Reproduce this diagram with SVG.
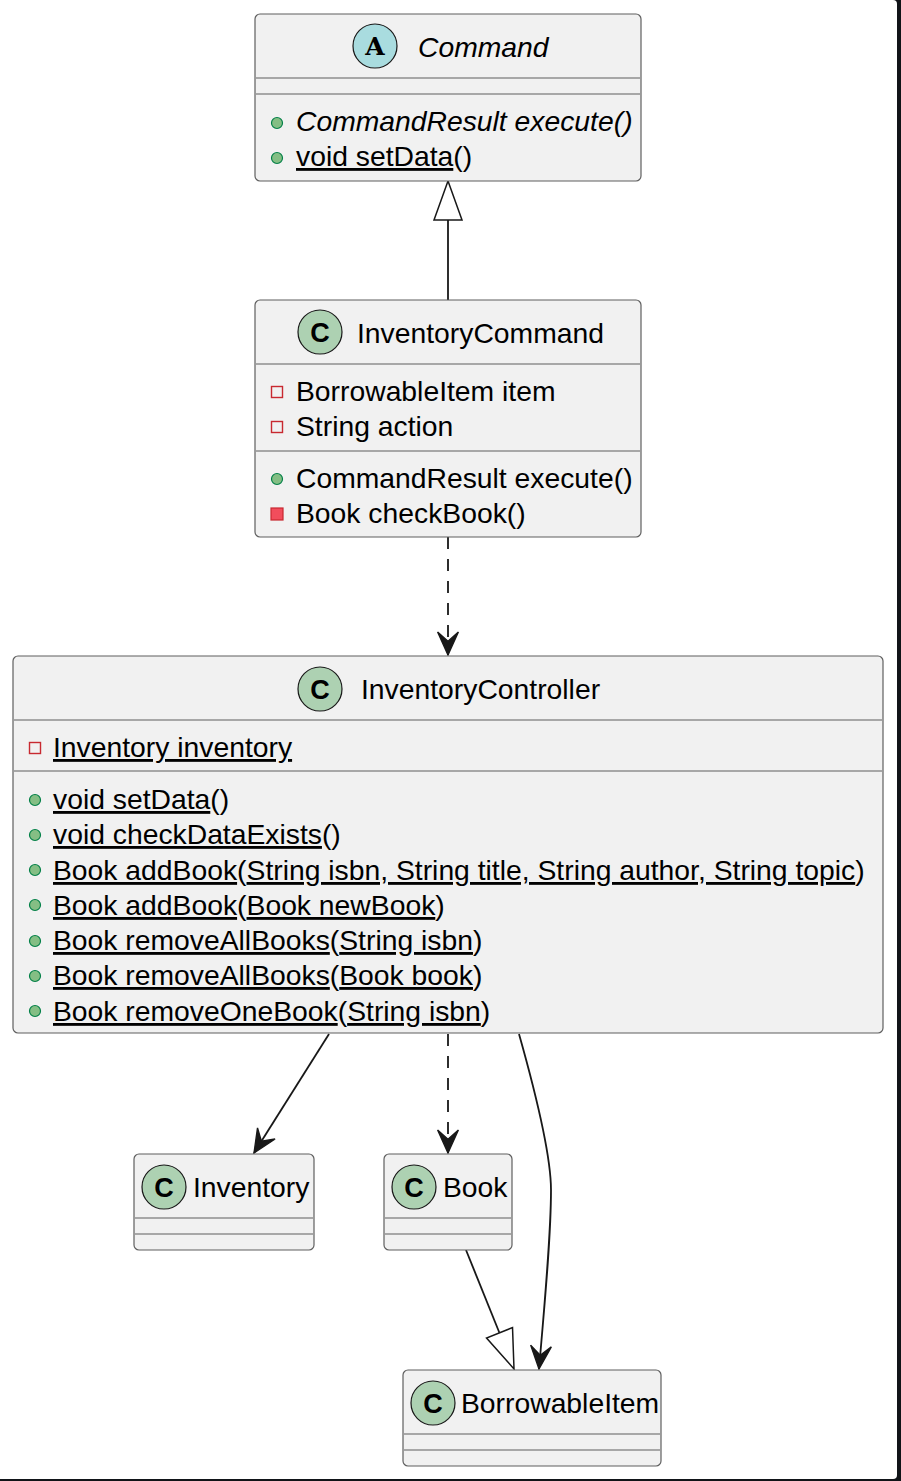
<svg xmlns="http://www.w3.org/2000/svg" width="901" height="1481" viewBox="0 0 901 1481">
<style>
  .box{fill:#F1F1F1;stroke:#5f5f5f;stroke-width:1.2}
  .sep{stroke:#5f5f5f;stroke-width:1.2}
  .t{font-family:"Liberation Sans",Arial,sans-serif;font-size:28.3px;fill:#000}
  .it{font-style:italic}
  .u{text-decoration:underline}
  .ci{fill:#ADD1B2;stroke:#181818;stroke-width:1.2}
  .ca{fill:#A9DCDF;stroke:#181818;stroke-width:1.2}
  .cl{font-family:"Liberation Sans",Arial,sans-serif;font-weight:bold;font-size:27px;fill:#000;text-anchor:middle}
  .al{font-family:"DejaVu Serif","Liberation Serif",serif;font-weight:bold;font-size:25px;fill:#000;text-anchor:middle}
  .pub{fill:#84BE84;stroke:#038048;stroke-width:1.2}
  .prf{fill:none;stroke:#C82930;stroke-width:1.4}
  .prm{fill:#F24D5C;stroke:#C82930;stroke-width:1.2}
  .ln{fill:none;stroke:#181818;stroke-width:1.8}
  .dash{stroke-dasharray:12,10}
</style>
<defs>
  <marker id="arr" markerUnits="userSpaceOnUse" orient="auto" refX="0" refY="0" markerWidth="30" markerHeight="30" viewBox="-24 -12 26 24" overflow="visible">
    <path d="M0,0 L-20,-9 L-12,0 L-20,9 Z" fill="#181818" stroke="#181818" stroke-width="1.2" stroke-linejoin="miter"/>
  </marker>
</defs>
<rect x="0" y="0" width="901" height="1481" fill="#111418"/>
<path d="M0,0 H893 Q897,0 897,4 V1475 Q897,1479 893,1479 H0 Z" fill="#FFFFFF"/>

<g id="connectors">
  <line class="ln" x1="448" y1="300" x2="448" y2="220"/>
  <path d="M0,0 L-39,-14 L-39,14 Z" transform="translate(448,181) rotate(-90)" fill="#FFFFFF" stroke="#181818" stroke-width="1.5"/>
  <line class="ln dash" x1="448" y1="537" x2="448" y2="655" marker-end="url(#arr)"/>
  <line class="ln" x1="329" y1="1034" x2="254" y2="1153" marker-end="url(#arr)"/>
  <line class="ln dash" x1="448" y1="1034" x2="448" y2="1153" marker-end="url(#arr)"/>
  <path class="ln" d="M519,1034 C532,1080 551,1150 551,1190 C551,1235 545,1300 539,1369" marker-end="url(#arr)"/>
  <line class="ln" x1="466" y1="1250" x2="499.5" y2="1333"/>
  <path d="M0,0 L-39,-14 L-39,14 Z" transform="translate(514,1369) rotate(68.2)" fill="#FFFFFF" stroke="#181818" stroke-width="1.5"/>
</g>

<g id="Command">
  <rect class="box" x="255" y="14" width="386" height="167" rx="5"/>
  <circle class="ca" cx="375" cy="46" r="22"/>
  <text class="al" x="375" y="55">A</text>
  <text class="t it" x="418" y="57">Command</text>
  <line class="sep" x1="256" y1="78" x2="640" y2="78"/>
  <line class="sep" x1="256" y1="94" x2="640" y2="94"/>
  <circle class="pub" cx="277" cy="123" r="5.5"/>
  <text class="t it" x="296" y="131">CommandResult execute()</text>
  <circle class="pub" cx="277" cy="158" r="5.5"/>
  <text class="t" x="296" y="166"><tspan class="u">void setData</tspan>()</text>
</g>

<g id="InventoryCommand">
  <rect class="box" x="255" y="300" width="386" height="237" rx="5"/>
  <circle class="ci" cx="320" cy="332" r="22"/>
  <text class="cl" x="320" y="342">C</text>
  <text class="t" x="357" y="343">InventoryCommand</text>
  <line class="sep" x1="256" y1="364" x2="640" y2="364"/>
  <rect class="prf" x="271.5" y="386.5" width="11" height="11"/>
  <text class="t" x="296" y="401">BorrowableItem item</text>
  <rect class="prf" x="271.5" y="421.5" width="11" height="11"/>
  <text class="t" x="296" y="436">String action</text>
  <line class="sep" x1="256" y1="451" x2="640" y2="451"/>
  <circle class="pub" cx="277" cy="479" r="5.5"/>
  <text class="t" x="296" y="488">CommandResult execute()</text>
  <rect class="prm" x="271" y="508" width="12" height="12"/>
  <text class="t" x="296" y="523">Book checkBook()</text>
</g>

<g id="InventoryController">
  <rect class="box" x="13" y="656" width="870" height="377" rx="5"/>
  <circle class="ci" cx="320" cy="689" r="22"/>
  <text class="cl" x="320" y="699">C</text>
  <text class="t" x="361" y="699">InventoryController</text>
  <line class="sep" x1="14" y1="720" x2="882" y2="720"/>
  <rect class="prf" x="29.5" y="742.5" width="11" height="11"/>
  <text class="t" x="53" y="757"><tspan class="u">Inventory inventory</tspan></text>
  <line class="sep" x1="14" y1="771" x2="882" y2="771"/>
  <circle class="pub" cx="35" cy="800" r="5.5"/>
  <text class="t" x="53" y="809"><tspan class="u">void setData</tspan>()</text>
  <circle class="pub" cx="35" cy="835" r="5.5"/>
  <text class="t" x="53" y="844"><tspan class="u">void checkDataExists</tspan>()</text>
  <circle class="pub" cx="35" cy="870" r="5.5"/>
  <text class="t" x="53" y="880"><tspan class="u">Book addBook</tspan>(<tspan class="u">String isbn, String title, String author, String topic</tspan>)</text>
  <circle class="pub" cx="35" cy="905" r="5.5"/>
  <text class="t" x="53" y="915"><tspan class="u">Book addBook</tspan>(<tspan class="u">Book newBook</tspan>)</text>
  <circle class="pub" cx="35" cy="941" r="5.5"/>
  <text class="t" x="53" y="950"><tspan class="u">Book removeAllBooks</tspan>(<tspan class="u">String isbn</tspan>)</text>
  <circle class="pub" cx="35" cy="976" r="5.5"/>
  <text class="t" x="53" y="985"><tspan class="u">Book removeAllBooks</tspan>(<tspan class="u">Book book</tspan>)</text>
  <circle class="pub" cx="35" cy="1011" r="5.5"/>
  <text class="t" x="53" y="1021"><tspan class="u">Book removeOneBook</tspan>(<tspan class="u">String isbn</tspan>)</text>
</g>

<g id="Inventory">
  <rect class="box" x="134" y="1154" width="180" height="96" rx="5"/>
  <circle class="ci" cx="164" cy="1187" r="22"/>
  <text class="cl" x="164" y="1197">C</text>
  <text class="t" x="193" y="1197">Inventory</text>
  <line class="sep" x1="135" y1="1218" x2="313" y2="1218"/>
  <line class="sep" x1="135" y1="1234" x2="313" y2="1234"/>
</g>

<g id="Book">
  <rect class="box" x="384" y="1154" width="128" height="96" rx="5"/>
  <circle class="ci" cx="414" cy="1187" r="22"/>
  <text class="cl" x="414" y="1197">C</text>
  <text class="t" x="443" y="1197">Book</text>
  <line class="sep" x1="385" y1="1218" x2="511" y2="1218"/>
  <line class="sep" x1="385" y1="1234" x2="511" y2="1234"/>
</g>

<g id="BorrowableItem">
  <rect class="box" x="403" y="1370" width="258" height="96" rx="5"/>
  <circle class="ci" cx="433" cy="1403" r="22"/>
  <text class="cl" x="433" y="1413">C</text>
  <text class="t" x="461" y="1413">BorrowableItem</text>
  <line class="sep" x1="404" y1="1434" x2="660" y2="1434"/>
  <line class="sep" x1="404" y1="1450" x2="660" y2="1450"/>
</g>
</svg>
